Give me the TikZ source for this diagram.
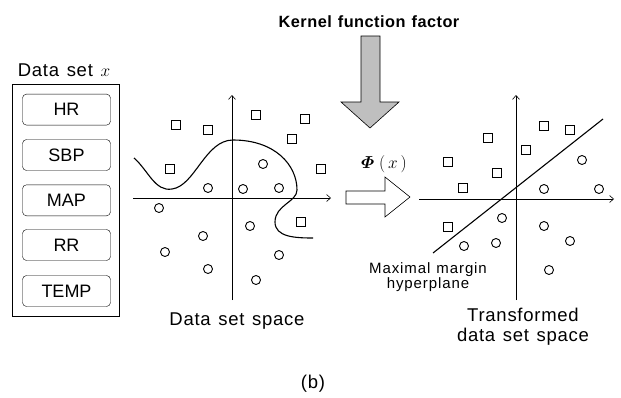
\documentclass[tikz,border=0pt]{standalone}
\usepackage{amsmath}
\usepackage{bm}
\usepackage{fontspec}
\setmainfont{Liberation Sans}
\newfontfamily\labf[LetterSpace=4,WordSpace=1.3]{Liberation Sans}
\newfontfamily\kerf[LetterSpace=3,WordSpace=1.2]{Liberation Sans}
\newfontfamily\mmf[LetterSpace=6,WordSpace=1.2]{Liberation Sans}
\newfontfamily\boxfont{Liberation Sans}
\usetikzlibrary{arrows.meta}
\begin{document}
\begin{tikzpicture}[x=1pt,y=-1pt,
  sq/.style={draw,line width=0.9pt,minimum size=9pt,inner sep=0pt},
  ci/.style={draw,line width=0.9pt,circle,minimum size=9pt,inner sep=0pt},
  var/.style={draw,rounded corners=4pt,minimum width=88pt,minimum height=31pt,inner sep=0pt,font=\boxfont\fontsize{18}{20}\selectfont},
  ax/.style={line width=0.6pt,-{Straight Barb[length=4pt,width=7pt]}},
  lbl/.style={font=\labf\fontsize{18.5}{20}\selectfont,anchor=base}]
\useasboundingbox (0,0) rectangle (621,397);
% left data set box
\node[lbl] (dstitle) at (64,76) {Data set $x$};
\node[draw,minimum width=107pt,minimum height=232pt,inner sep=0pt] (dsbox) at (66,200) {};
\node[var] (hr) at (66.5,109.6) {HR};
\node[var] (sbp) at (66.5,155) {SBP};
\node[var] (map) at (66.5,200.3) {MAP};
\node[var] (rr) at (66.5,245) {RR};
\node[var] (temp) at (66.5,291) {TEMP};
% left plot axes
\coordinate (ly0) at (232,300);
\coordinate (ly1) at (232,95);
\coordinate (lx0) at (133,198);
\coordinate (lx1) at (331,198);
\draw[ax] (ly0) -- (ly1);
\draw[ax] (lx0) -- (lx1);
% squares left
\foreach \p [count=\i] in {(176,125),(208,130),(256,115),(305,119),(292,139),(170,169),(321,169),(301,222)}
  \node[sq] (ls\i) at \p {};
\foreach \p [count=\i] in {(263,164),(208,188),(243,189),(279,188),(159,208),(250,226),(203,236),(165,252),(279,255),(208,269),(256,280)}
  \node[ci] (lc\i) at \p {};
% decision curve
\draw[line width=1.1pt] (134,158) .. controls (148,170) and (155,192) .. (172,189)
  .. controls (195,186) and (205,140) .. (233,140)
  .. controls (275,140) and (297,165) .. (297,190)
  .. controls (297,202) and (275,205) .. (275,222)
  .. controls (275,237) and (295,238) .. (313,238);
\node[lbl] (lspace) at (237,325) {Data set space};
% kernel arrow
\node[font=\kerf\bfseries\fontsize{16.3}{18}\selectfont,anchor=base] (kff) at (369,27.7) {Kernel function factor};
\draw[fill=black!25,line width=0.6pt] (361,36) -- (380,36) -- (380,102) -- (399,102) -- (370,128) -- (341,102) -- (361,102) -- cycle;
% phi label
\node[anchor=base,font=\fontsize{19}{21}\selectfont,inner sep=0pt] (phi) at (384,168) {$\bm{\varPhi}\;(\,x\,)$};
% white arrow
\draw[fill=white,line width=0.6pt] (346,191) -- (385,191) -- (385,177) -- (410,197) -- (385,217) -- (385,204) -- (346,204) -- cycle;
% right plot axes
\coordinate (ry0) at (516,300);
\coordinate (ry1) at (516,95);
\coordinate (rx0) at (419,199);
\coordinate (rx1) at (614,199);
\draw[ax] (ry0) -- (ry1);
\draw[ax] (rx0) -- (rx1);
\foreach \p [count=\i] in {(544,126),(570,130),(488,138),(526,150),(448,162),(497,173),(463,188),(448,227)}
  \node[sq] (rs\i) at \p {};
\foreach \p [count=\i] in {(582,160),(544,189),(599,189),(502,218),(544,226),(464,246),(496,243),(570,241),(549,270)}
  \node[ci] (rc\i) at \p {};
\coordinate (h0) at (433,253);
\coordinate (h1) at (603,119);
\draw[line width=1.1pt] (h0) -- (h1);
\node[font=\mmf\fontsize{15}{15}\selectfont,align=center,anchor=base] (mm) at (428,288) {Maximal margin\\hyperplane};
\node[lbl,font=\labf\fontsize{18.5}{20}\selectfont,align=center] (rspace) at (523,341) {Transformed\\data set space};
\node[lbl] (b) at (313,388) {(b)};
\end{tikzpicture}
\end{document}
